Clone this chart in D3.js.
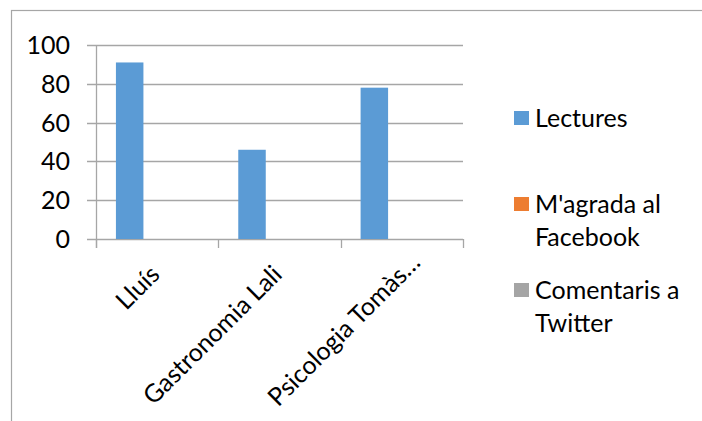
<!DOCTYPE html>
<html><head><meta charset="utf-8">
<script src="https://cdn.jsdelivr.net/npm/d3@7"></script>
<style>
html,body{margin:0;padding:0;background:#fff;}
svg{display:block;}
text{font-family:Lato,"Open Sans",sans-serif;fill:#000;}
</style></head>
<body>
<script>
const categories = ["Lluís", "Gastronomia Lali", "Psicologia Tomàs…"];
const seriesNames = ["Lectures", "M'agrada al Facebook", "Comentaris a Twitter"];
const legendLines = [["Lectures"], ["M'agrada al", "Facebook"], ["Comentaris a", "Twitter"]];
const lectures = [91, 46, 78];
const magrada = [0, 0, 0];
const comentaris = [0, 0, 0];
const yTicks = [0, 20, 40, 60, 80, 100];
const colors = ["#5b9bd5", "#ed7d31", "#a5a5a5"];

const W = 702, H = 421;
const FS = "25px";
const svg = d3.select("body").append("svg").attr("width", W).attr("height", H);

// outer chart border
svg.append("rect").attr("x", 11.5).attr("y", 10.5).attr("width", 800).attr("height", 500)
  .attr("fill", "none").attr("stroke", "#a6a6a6").attr("stroke-width", 1.2);

const plot = {left: 96, right: 463, top: 45, bottom: 239};
const x = d3.scaleBand().domain(categories).range([plot.left, plot.right]).padding(0);
const y = d3.scaleLinear().domain([0, 100]).range([plot.bottom, plot.top]);
const xs = d3.scaleBand().domain(seriesNames).range([0, x.bandwidth()]).paddingInner(0).paddingOuter(0.725);

const gridColor = "#a6a6a6";
// gridlines + left ticks
svg.append("g").selectAll("line").data(yTicks).join("line")
  .attr("x1", plot.left - 9).attr("x2", plot.right)
  .attr("y1", d => Math.round(y(d)) + 0.5).attr("y2", d => Math.round(y(d)) + 0.5)
  .attr("stroke", gridColor).attr("stroke-width", 1.3);

// vertical axis line
svg.append("line").attr("x1", plot.left + 0.5).attr("x2", plot.left + 0.5)
  .attr("y1", plot.top).attr("y2", plot.bottom + 9).attr("stroke", gridColor).attr("stroke-width", 1.3);

// category tick marks
const bounds = categories.map(c => x(c)).concat([x(categories[categories.length - 1]) + x.bandwidth()]);
svg.append("g").selectAll("line").data(bounds).join("line")
  .attr("x1", d => Math.round(d) + 0.5).attr("x2", d => Math.round(d) + 0.5)
  .attr("y1", plot.bottom).attr("y2", plot.bottom + 9)
  .attr("stroke", gridColor).attr("stroke-width", 1.3);

// y tick labels
svg.append("g").selectAll("text").data(yTicks).join("text")
  .attr("x", 70).attr("y", d => y(d)).attr("dy", "0.36em")
  .attr("text-anchor", "end").style("font-size", FS).text(d => d);

// bars
const seriesData = [lectures, magrada, comentaris];
seriesData.forEach((vals, si) => {
  svg.append("g").selectAll("rect").data(vals).join("rect")
    .attr("x", (d, i) => x(categories[i]) + xs(seriesNames[si]))
    .attr("width", xs.bandwidth())
    .attr("y", d => y(d))
    .attr("height", d => y(0) - y(d))
    .attr("fill", colors[si]);
});

// x labels rotated
const labelShift = [0, 0, 16];
svg.append("g").selectAll("text").data(categories).join("text")
  .attr("transform", (d, i) => `translate(${x(d) + x.bandwidth() / 2 + 4 + labelShift[i]},${276 - labelShift[i] * 0.75}) rotate(-45)`)
  .attr("text-anchor", "end").style("font-size", FS).text(d => d);

// legend
const legendY = [111, 197, 283];
const lg = svg.append("g");
legendLines.forEach((lines, i) => {
  lg.append("rect").attr("x", 514).attr("y", legendY[i]).attr("width", 15).attr("height", 14).attr("fill", colors[i]);
  const t = lg.append("text").attr("x", 535).attr("y", legendY[i] + 15.5).style("font-size", FS);
  lines.forEach((ln, j) => {
    t.append("tspan").attr("x", 535).attr("dy", j === 0 ? 0 : 33).text(ln);
  });
});
</script>
</body></html>
